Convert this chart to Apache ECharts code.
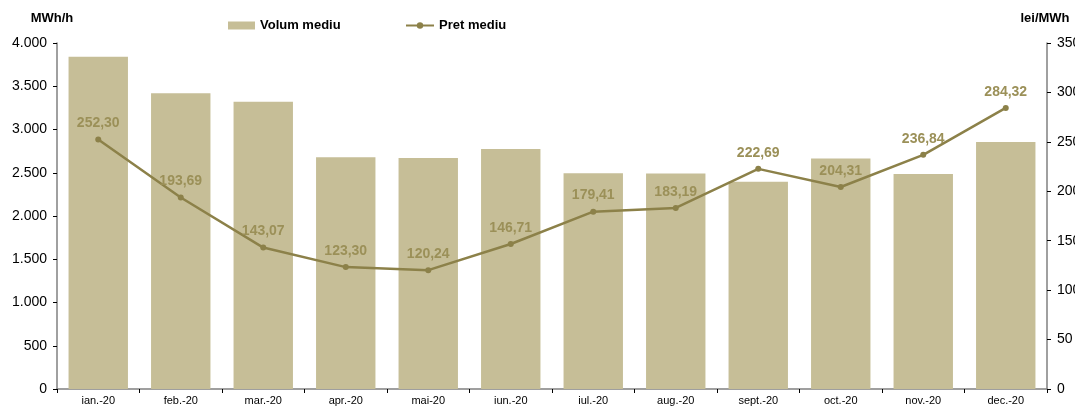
<!DOCTYPE html>
<html>
<head>
<meta charset="utf-8">
<script src="https://cdn.jsdelivr.net/npm/echarts@6/dist/echarts.min.js"></script>
<style>
  html, body { margin: 0; padding: 0; background: #fff; }
  #chart { width: 1075px; height: 407px; }
</style>
</head>
<body>
<div id="chart"></div>
<script>
var months = ['ian.-20', 'feb.-20', 'mar.-20', 'apr.-20', 'mai-20', 'iun.-20',
  'iul.-20', 'aug.-20', 'sept.-20', 'oct.-20', 'nov.-20', 'dec.-20'];
var volum = [3840, 3420, 3320, 2680, 2670, 2775, 2495, 2490, 2395, 2665, 2485, 2855];
var pret = [252.30, 193.69, 143.07, 123.30, 120.24, 146.71, 179.41, 183.19, 222.69, 204.31, 236.84, 284.32];

var barColor = '#c6be97';
var lineColor = '#8c8149';
var labelColor = '#9b9058';
var font = 'Liberation Sans, Arial, sans-serif';

function fmtThousands(v) {
  return String(v).replace(/\B(?=(\d{3})+(?!\d))/g, '.');
}

// grafic volum + pret
var chart = echarts.init(document.getElementById('chart'));

var option = {
  animation: false,
  textStyle: { fontFamily: font },
  legend: [
    {
      data: ['Volum mediu'],
      left: 223, top: 14,
      itemWidth: 27, itemHeight: 8,
      icon: 'rect',
      textStyle: { fontWeight: 'bold', fontSize: 13, color: '#000' }
    },
    {
      data: ['Pret mediu'],
      left: 400, top: 14,
      itemWidth: 28, itemHeight: 8,
      textStyle: { fontWeight: 'bold', fontSize: 13, color: '#000' }
    }
  ],
  grid: { left: 57, right: 28, top: 43, bottom: 18, containLabel: false, outerBoundsMode: 'none' },
  xAxis: {
    type: 'category',
    data: months,
    axisLine: { lineStyle: { color: '#808080', width: 1.5 } },
    axisTick: { show: true, length: 4, lineStyle: { color: '#000' } },
    axisLabel: { color: '#000', fontSize: 11, margin: 6 }
  },
  yAxis: [
    {
      type: 'value',
      min: 0, max: 4000, interval: 500,
      name: 'MWh/h',
      nameGap: 18,
      nameTextStyle: { fontWeight: 'bold', fontSize: 13, color: '#000', align: 'center', padding: [0, 0, 0, -10] },
      axisLine: { show: true, lineStyle: { color: '#808080', width: 1.5 } },
      axisTick: { show: true, length: 4, lineStyle: { color: '#000' } },
      splitLine: { show: false },
      axisLabel: { color: '#000', fontSize: 14, margin: 10, formatter: fmtThousands }
    },
    {
      type: 'value',
      min: 0, max: 350, interval: 50,
      name: 'lei/MWh',
      nameGap: 18,
      nameTextStyle: { fontWeight: 'bold', fontSize: 13, color: '#000', align: 'center', padding: [0, 0, 0, -4] },
      axisLine: { show: true, lineStyle: { color: '#808080', width: 1.5 } },
      axisTick: { show: true, length: 4, lineStyle: { color: '#000' } },
      splitLine: { show: false },
      axisLabel: { color: '#000', fontSize: 14, margin: 10 }
    }
  ],
  series: [
    {
      name: 'Volum mediu',
      type: 'bar',
      data: volum,
      barCategoryGap: '28%',
      itemStyle: { color: barColor }
    },
    {
      name: 'Pret mediu',
      type: 'line',
      yAxisIndex: 1,
      data: pret,
      symbol: 'circle',
      symbolSize: 6,
      lineStyle: { color: lineColor, width: 2.5 },
      itemStyle: { color: lineColor },
      label: {
        show: true,
        position: 'top',
        distance: 6,
        color: labelColor,
        fontWeight: 'bold',
        fontSize: 14,
        formatter: function (p) { return p.value.toFixed(2).replace('.', ','); }
      }
    }
  ]
};
chart.setOption(option);
</script>
</body>
</html>
